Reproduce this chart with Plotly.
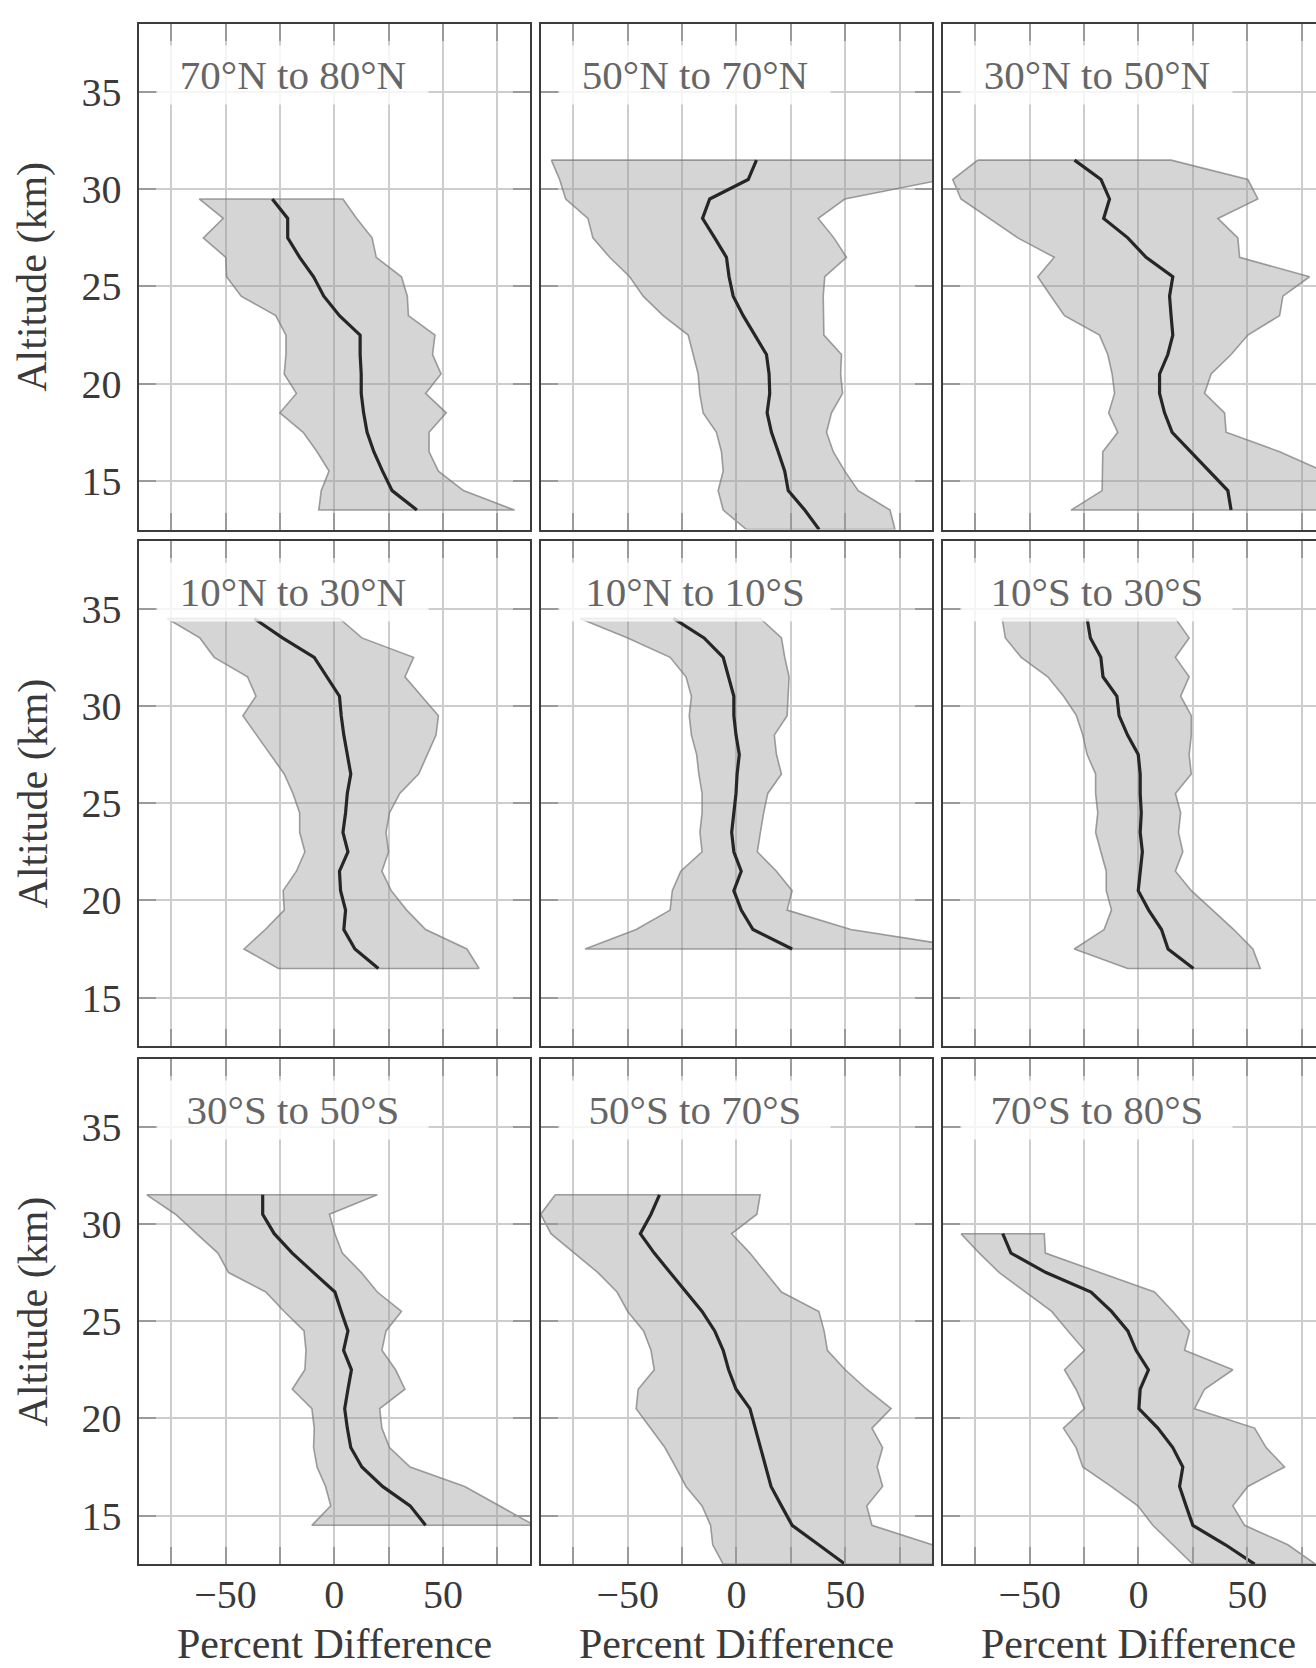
import plotly.graph_objects as go

# ---------------- data ----------------
regions = ["70°N to 80°N", "50°N to 70°N", "30°N to 50°N",
           "10°N to 30°N", "10°N to 10°S", "10°S to 30°S",
           "30°S to 50°S", "50°S to 70°S", "70°S to 80°S"]

alt_1 = [29.5, 28.5, 27.5, 26.5, 25.5, 24.5, 23.5, 22.5, 21.5, 20.5, 19.5, 18.5, 17.5, 16.5, 15.5, 14.5, 13.5]
med_1 = [-28.5, -21.4, -21.4, -15.9, -9.5, -4.8, 2.4, 11.9, 11.9, 12.4, 12.4, 13.5, 15.1, 18.2, 22.2, 26.6, 38.0]
lo_1 = [-62.1, -51.0, -60.2, -49.9, -49.5, -42.8, -26.9, -22.2, -22.2, -23.0, -17.4, -25.0, -14.3, -7.9, -2.4, -6.0, -7.1]
hi_1 = [4.0, 10.3, 17.4, 19.3, 30.9, 33.6, 34.1, 46.3, 45.2, 49.1, 42.0, 51.5, 43.6, 43.6, 47.9, 59.4, 82.9]

alt_2 = [31.5, 30.5, 29.5, 28.5, 27.5, 26.5, 25.5, 24.5, 23.5, 22.5, 21.5, 20.5, 19.5, 18.5, 17.5, 16.5, 15.5, 14.5, 13.5, 12.5]
med_2 = [9.2, 5.4, -12.3, -15.6, -10.0, -4.6, -3.4, -1.5, 3.1, 8.4, 13.8, 15.0, 15.3, 14.1, 16.1, 19.2, 22.2, 23.8, 31.4, 38.0]
lo_2 = [-85.1, -81.3, -78.5, -68.3, -66.0, -58.3, -49.1, -42.9, -33.7, -22.2, -19.9, -17.6, -16.9, -15.3, -9.2, -6.9, -6.1, -8.4, -6.1, 4.6]
hi_2 = [130.0, 95.0, 49.8, 37.6, 44.8, 50.6, 40.6, 39.9, 39.9, 40.2, 48.3, 47.9, 48.8, 43.7, 41.4, 44.5, 49.8, 56.0, 70.6, 72.9]

alt_3 = [31.5, 30.5, 29.5, 28.5, 27.5, 26.5, 25.5, 24.5, 23.5, 22.5, 21.5, 20.5, 19.5, 18.5, 17.5, 16.5, 15.5, 14.5, 13.5]
med_3 = [-29.4, -17.2, -13.3, -16.0, -4.9, 3.5, 15.8, 14.3, 15.0, 15.8, 13.5, 9.7, 9.7, 12.0, 15.5, 24.2, 32.7, 41.1, 42.6]
lo_3 = [-73.9, -85.4, -81.6, -68.6, -55.5, -38.7, -46.3, -40.2, -34.0, -17.9, -14.1, -12.1, -11.0, -13.7, -9.5, -16.4, -16.4, -16.7, -31.0]
hi_3 = [15.0, 50.3, 54.9, 36.5, 45.7, 46.5, 78.7, 66.4, 64.9, 50.3, 42.6, 33.4, 30.4, 39.6, 40.3, 64.9, 85.0, 95.0, 100.0]

alt_4 = [34.5, 33.5, 32.5, 31.5, 30.5, 29.5, 28.5, 27.5, 26.5, 25.5, 24.5, 23.5, 22.5, 21.5, 20.5, 19.5, 18.5, 17.5, 16.5]
med_4 = [-36.8, -23.8, -9.2, -3.2, 2.4, 3.2, 4.4, 6.0, 7.6, 6.0, 5.2, 4.0, 6.3, 2.4, 2.9, 5.2, 4.4, 9.5, 20.3]
lo_4 = [-76.9, -61.8, -55.2, -39.9, -36.0, -42.0, -35.7, -29.3, -23.0, -19.0, -15.9, -15.9, -13.5, -17.4, -23.5, -23.0, -31.7, -41.5, -25.7]
hi_4 = [2.4, 12.7, 36.5, 32.5, 40.4, 47.9, 46.8, 42.8, 38.8, 30.1, 25.4, 23.8, 25.0, 21.9, 26.2, 33.3, 42.0, 61.0, 66.6]

alt_5 = [34.5, 33.5, 32.5, 31.5, 30.5, 29.5, 28.5, 27.5, 26.5, 25.5, 24.5, 23.5, 22.5, 21.5, 20.5, 19.5, 18.5, 17.5]
med_5 = [-29.0, -14.9, -6.1, -3.6, -1.2, -1.2, -0.2, 1.3, 0.3, -0.2, -1.2, -2.2, -1.2, 2.2, -1.2, 2.2, 7.6, 25.6]
lo_5 = [-72.0, -50.0, -30.5, -23.2, -20.7, -21.7, -20.7, -18.3, -17.3, -15.8, -15.8, -16.8, -15.8, -25.6, -29.5, -30.5, -46.1, -69.6]
hi_5 = [11.0, 20.7, 22.2, 24.2, 23.7, 23.3, 17.4, 18.4, 20.7, 14.4, 12.5, 11.0, 9.6, 18.4, 25.6, 23.3, 52.6, 110.0]

alt_6 = [34.5, 33.5, 32.5, 31.5, 30.5, 29.5, 28.5, 27.5, 26.5, 25.5, 24.5, 23.5, 22.5, 21.5, 20.5, 19.5, 18.5, 17.5, 16.5]
med_6 = [-23.6, -22.1, -17.3, -16.3, -9.9, -8.9, -5.0, -0.1, 0.8, 0.8, 1.3, 0.8, 1.8, 0.8, -0.1, 4.7, 10.6, 13.6, 25.3]
lo_6 = [-62.7, -61.2, -53.9, -41.7, -34.4, -28.5, -25.6, -23.6, -19.7, -19.7, -18.7, -19.7, -17.3, -14.8, -14.8, -12.4, -15.8, -29.5, -5.0]
hi_6 = [17.0, 23.3, 17.0, 23.3, 19.4, 24.3, 24.3, 23.3, 24.3, 17.0, 19.4, 18.4, 20.4, 17.0, 24.3, 34.1, 43.8, 52.6, 56.0]

alt_7 = [31.5, 30.5, 29.5, 28.5, 27.5, 26.5, 25.5, 24.5, 23.5, 22.5, 21.5, 20.5, 19.5, 18.5, 17.5, 16.5, 15.5, 14.5]
med_7 = [-32.9, -32.9, -27.6, -19.3, -9.5, 0.3, 3.2, 6.3, 4.3, 7.9, 6.3, 4.8, 6.0, 7.6, 12.7, 22.2, 34.9, 42.0]
lo_7 = [-86.2, -73.0, -63.3, -53.5, -48.6, -31.5, -23.0, -13.9, -13.0, -13.5, -19.3, -10.3, -9.2, -9.5, -7.9, -4.0, -1.6, -10.3]
hi_7 = [19.8, -2.2, 0.3, 3.7, 12.5, 19.8, 30.9, 23.8, 21.9, 28.2, 32.5, 20.9, 21.9, 25.4, 34.9, 60.0, 76.0, 92.0]

alt_8 = [31.5, 30.5, 29.5, 28.5, 27.5, 26.5, 25.5, 24.5, 23.5, 22.5, 21.5, 20.5, 19.5, 18.5, 17.5, 16.5, 15.5, 14.5, 13.5, 12.5]
med_8 = [-35.4, -39.3, -44.2, -37.8, -30.5, -23.2, -15.8, -10.0, -6.1, -3.6, -0.2, 6.2, 8.6, 11.0, 13.4, 15.9, 20.7, 25.6, 37.8, 50.0]
lo_8 = [-83.3, -90.0, -85.3, -74.5, -63.7, -54.9, -50.0, -42.7, -39.3, -37.8, -45.2, -46.1, -39.3, -32.9, -28.0, -23.2, -15.8, -11.9, -10.9, -6.1]
hi_8 = [10.9, 9.4, -2.2, 6.2, 13.5, 20.7, 37.9, 40.3, 41.8, 50.0, 59.9, 71.1, 62.3, 67.2, 64.7, 67.2, 59.9, 62.3, 90.0, 101.0]

alt_9 = [29.5, 28.5, 27.5, 26.5, 25.5, 24.5, 23.5, 22.5, 21.5, 20.5, 19.5, 18.5, 17.5, 16.5, 15.5, 14.5, 13.5, 12.5]
med_9 = [-62.4, -58.6, -42.5, -21.8, -12.4, -4.9, -1.1, 4.6, 0.8, 0.2, 8.9, 15.8, 20.4, 18.9, 21.9, 25.0, 40.0, 53.4]
lo_9 = [-81.6, -73.2, -64.0, -51.7, -39.9, -32.4, -24.8, -34.0, -28.7, -24.8, -34.5, -28.7, -25.6, -12.6, -0.3, 6.6, 15.8, 25.0]
hi_9 = [-43.3, -42.8, -17.9, 7.4, 15.8, 23.5, 21.2, 43.4, 30.4, 25.8, 53.4, 58.7, 67.2, 50.3, 43.4, 48.8, 68.7, 81.4]

altitudes = [alt_1, alt_2, alt_3, alt_4, alt_5, alt_6, alt_7, alt_8, alt_9]
medians = [med_1, med_2, med_3, med_4, med_5, med_6, med_7, med_8, med_9]
lowers = [lo_1, lo_2, lo_3, lo_4, lo_5, lo_6, lo_7, lo_8, lo_9]
uppers = [hi_1, hi_2, hi_3, hi_4, hi_5, hi_6, hi_7, hi_8, hi_9]

x_tickvals = [-75, -50, -25, 0, 25, 50, 75]
x_ticktext = ["", "\u221250", "", "0", "", "50", ""]
y_tickvals = [15, 20, 25, 30, 35]
y_ticktext = ["15", "20", "25", "30", "35"]
x_range = [-90, 90]
y_range = [12.5, 38.5]

# ---------------- layout geometry (pixels) ----------------
W, H = 1316, 1668
col_left = [138.5, 540.7, 942.7]
row_top = [24.0, 540.7, 1058.7]
panel_w = 391.5
panel_h = 505.5

FONT = "Liberation Serif"
TXT = "#3a3a3a"

fig = go.Figure()
layout = dict(
    width=W, height=H, margin=dict(l=0, r=0, t=0, b=0),
    paper_bgcolor="white", plot_bgcolor="white", showlegend=False,
    font=dict(family=FONT, size=40, color=TXT),
)
annotations = []

for i in range(9):
    r, c = divmod(i, 3)
    n = "" if i == 0 else str(i + 1)
    xa, ya = "x" + n, "y" + n
    alt, med, lo, hi = altitudes[i], medians[i], lowers[i], uppers[i]

    # band
    fig.add_trace(go.Scatter(
        x=lo + hi[::-1] + [lo[0]], y=alt + alt[::-1] + [alt[0]],
        mode="lines", fill="toself",
        fillcolor="rgba(150,150,150,0.40)",
        line=dict(color="rgba(120,120,120,0.7)", width=1.6),
        xaxis=xa, yaxis=ya, hoverinfo="skip"))
    # median
    fig.add_trace(go.Scatter(
        x=med, y=alt, mode="lines",
        line=dict(color="#262626", width=3.2),
        xaxis=xa, yaxis=ya))

    left = col_left[c]
    right = min(left + panel_w, W)
    xr = [x_range[0], x_range[0] + (right - left) / panel_w * (x_range[1] - x_range[0])]
    top = row_top[r]
    common = dict(
        showgrid=True, gridcolor="#cdcdcd", gridwidth=1.6,
        ticks="inside", ticklen=17, tickwidth=1.6, tickcolor="#9a9a9a",
        showline=True, linecolor="#3c3c3c", linewidth=2,
        zeroline=False, fixedrange=True,
        tickfont=dict(family=FONT, size=40, color=TXT),
    )
    layout["xaxis" + n] = dict(
        common, domain=[left / W, right / W], range=xr, anchor=ya,
        tickmode="array", tickvals=x_tickvals, ticktext=x_ticktext,
        showticklabels=(r == 2), mirror="ticks", ticklabelstandoff=-6)
    layout["yaxis" + n] = dict(
        common, domain=[1 - (top + panel_h) / H, 1 - top / H], range=y_range,
        anchor=xa, tickmode="array", tickvals=y_tickvals, ticktext=y_ticktext,
        showticklabels=(c == 0), mirror=("ticks" if c < 2 else False),
        ticklabelstandoff=7)

    # region label
    annotations.append(dict(
        text=regions[i], xref="paper", yref="paper",
        x=(left + 18.5) / W, y=1 - (top + 21) / H,
        xanchor="left", yanchor="top", showarrow=False,
        width=270, height=58, align="center", valign="middle",
        bgcolor="rgba(255,255,255,0.8)", borderpad=0,
        font=dict(family=FONT, size=41, color="#666666")))

# axis titles
for r in range(3):
    annotations.append(dict(
        text="Altitude (km)", xref="paper", yref="paper",
        x=33 / W, y=1 - (row_top[r] + panel_h / 2) / H,
        xanchor="center", yanchor="middle", textangle=-90, showarrow=False,
        font=dict(family=FONT, size=42, color=TXT)))
for c in range(3):
    annotations.append(dict(
        text="Percent Difference", xref="paper", yref="paper",
        x=(col_left[c] + panel_w / 2) / W, y=0,
        xanchor="center", yanchor="bottom", showarrow=False, borderpad=0,
        font=dict(family=FONT, size=42, color=TXT)))

layout["annotations"] = annotations
fig.update_layout(**layout)
fig.write_html("out.html")
